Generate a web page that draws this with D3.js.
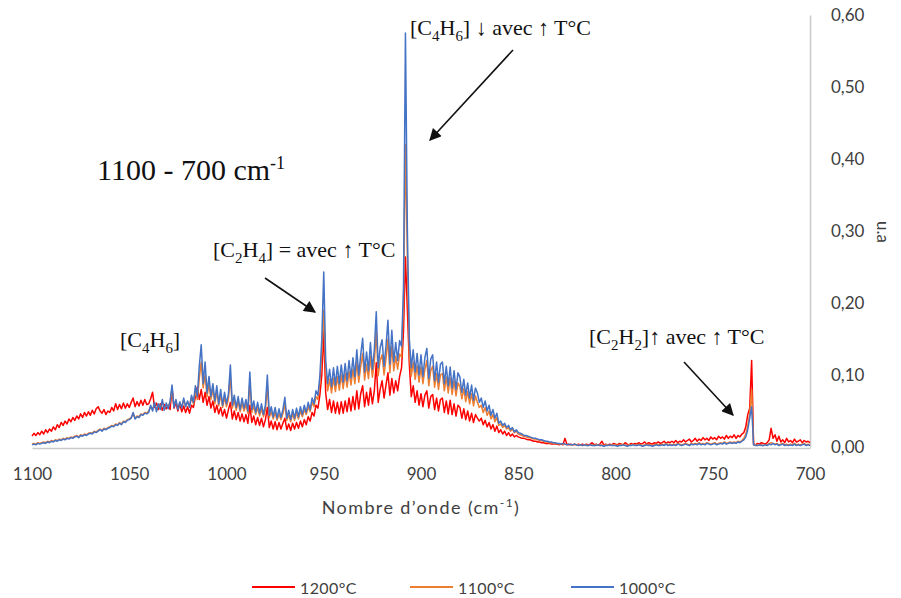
<!DOCTYPE html>
<html><head><meta charset="utf-8">
<script src="https://cdn.jsdelivr.net/npm/d3@7"></script>
<style>
html,body{margin:0;padding:0;background:#fff;}
svg{display:block;}
</style></head>
<body>
<svg id="chart" width="901" height="598"></svg>
<script>
// ---- DATA ----
const wavenumbers = d3.range(1100, 699, -1); // 1100 ... 700 cm-1, step 1
const xTicks = [1100, 1050, 1000, 950, 900, 850, 800, 750, 700];
const yTicks = [0, 0.1, 0.2, 0.3, 0.4, 0.5, 0.6];
const seriesNames = ["1200°C", "1100°C", "1000°C"];
const seriesColors = ["#FF0000", "#ED7D31", "#4472C4"];

const red1200 = [
0.015,0.019,0.016,0.020,0.017,0.022,0.018,0.024,0.020,0.025,
0.022,0.028,0.024,0.031,0.027,0.034,0.030,0.036,0.032,0.039,
0.035,0.041,0.037,0.043,0.039,0.046,0.041,0.048,0.043,0.049,
0.044,0.051,0.046,0.053,0.056,0.050,0.047,0.052,0.045,0.050,
0.048,0.055,0.050,0.060,0.052,0.059,0.053,0.061,0.054,0.060,
0.055,0.062,0.068,0.056,0.063,0.057,0.065,0.058,0.066,0.059,
0.060,0.067,0.076,0.055,0.061,0.052,0.060,0.051,0.059,0.053,
0.058,0.052,0.082,0.054,0.061,0.050,0.060,0.049,0.057,0.048,
0.056,0.047,0.058,0.055,0.070,0.083,0.066,0.080,0.062,0.076,
0.058,0.070,0.054,0.064,0.048,0.058,0.046,0.055,0.043,0.052,
0.040,0.052,0.062,0.039,0.050,0.038,0.048,0.036,0.046,0.035,
0.045,0.033,0.058,0.034,0.043,0.031,0.041,0.030,0.040,0.028,
0.038,0.055,0.027,0.036,0.025,0.035,0.024,0.034,0.025,0.033,
0.040,0.024,0.032,0.023,0.033,0.025,0.034,0.026,0.036,0.028,
0.038,0.031,0.042,0.036,0.048,0.043,0.058,0.054,0.072,0.100,
0.160,0.075,0.052,0.066,0.048,0.064,0.047,0.062,0.046,0.063,
0.047,0.064,0.049,0.068,0.050,0.070,0.052,0.078,0.053,0.074,
0.085,0.056,0.076,0.058,0.082,0.060,0.078,0.117,0.062,0.080,
0.092,0.068,0.086,0.103,0.072,0.095,0.075,0.092,0.078,0.098,
0.110,0.160,0.264,0.190,0.115,0.070,0.085,0.062,0.078,0.058,
0.074,0.056,0.072,0.078,0.054,0.070,0.073,0.052,0.068,0.050,
0.066,0.068,0.048,0.064,0.046,0.065,0.045,0.060,0.043,0.058,
0.055,0.040,0.053,0.038,0.050,0.036,0.047,0.034,0.045,0.040,
0.036,0.040,0.031,0.037,0.028,0.034,0.025,0.031,0.022,0.029,
0.020,0.024,0.018,0.022,0.016,0.020,0.015,0.018,0.014,0.016,
0.014,0.013,0.012,0.012,0.011,0.010,0.010,0.009,0.008,0.008,
0.007,0.007,0.006,0.006,0.005,0.005,0.005,0.004,0.004,0.004,
0.004,0.003,0.004,0.003,0.012,0.004,0.003,0.004,0.003,0.004,
0.003,0.004,0.003,0.004,0.003,0.004,0.003,0.004,0.006,0.003,
0.004,0.003,0.004,0.008,0.003,0.004,0.003,0.004,0.003,0.005,
0.004,0.003,0.005,0.004,0.003,0.006,0.004,0.003,0.005,0.004,
0.005,0.004,0.006,0.004,0.005,0.007,0.004,0.006,0.005,0.004,
0.006,0.005,0.007,0.005,0.006,0.008,0.005,0.007,0.006,0.008,
0.006,0.009,0.006,0.008,0.007,0.010,0.007,0.009,0.011,0.007,
0.009,0.012,0.008,0.011,0.009,0.013,0.010,0.012,0.009,0.014,
0.011,0.013,0.010,0.015,0.012,0.014,0.011,0.016,0.012,0.015,
0.013,0.017,0.012,0.016,0.014,0.018,0.020,0.028,0.045,0.054,
0.120,0.004,0.003,0.005,0.004,0.006,0.005,0.004,0.006,0.010,
0.026,0.012,0.017,0.008,0.015,0.007,0.010,0.006,0.012,0.007,
0.009,0.006,0.011,0.007,0.008,0.010,0.006,0.009,0.007,0.008,
0.006];

const orange1100 = [
0.004,0.005,0.004,0.006,0.005,0.006,0.007,0.006,0.008,0.007,
0.009,0.008,0.010,0.009,0.011,0.010,0.012,0.011,0.013,0.012,
0.014,0.013,0.015,0.016,0.014,0.017,0.016,0.018,0.017,0.019,
0.020,0.019,0.022,0.021,0.023,0.025,0.023,0.026,0.025,0.027,
0.028,0.030,0.029,0.032,0.031,0.034,0.032,0.036,0.035,0.038,
0.039,0.041,0.046,0.040,0.043,0.042,0.046,0.045,0.048,0.047,
0.050,0.056,0.052,0.060,0.051,0.058,0.054,0.063,0.053,0.059,
0.055,0.062,0.080,0.057,0.064,0.054,0.061,0.056,0.065,0.057,
0.062,0.057,0.068,0.060,0.078,0.066,0.095,0.118,0.082,0.100,
0.070,0.088,0.066,0.080,0.060,0.077,0.057,0.073,0.055,0.069,
0.056,0.067,0.098,0.054,0.065,0.051,0.063,0.049,0.061,0.050,
0.059,0.047,0.090,0.048,0.057,0.045,0.055,0.043,0.053,0.042,
0.051,0.085,0.041,0.049,0.039,0.048,0.037,0.046,0.038,0.046,
0.060,0.037,0.045,0.035,0.046,0.037,0.048,0.039,0.050,0.042,
0.052,0.045,0.056,0.049,0.062,0.056,0.070,0.066,0.090,0.130,
0.190,0.105,0.078,0.094,0.075,0.096,0.077,0.098,0.079,0.100,
0.081,0.102,0.083,0.105,0.086,0.108,0.088,0.118,0.090,0.112,
0.130,0.093,0.115,0.095,0.126,0.097,0.118,0.160,0.099,0.120,
0.128,0.100,0.122,0.150,0.103,0.140,0.106,0.126,0.108,0.129,
0.125,0.200,0.420,0.260,0.130,0.098,0.118,0.094,0.113,0.090,
0.111,0.088,0.108,0.120,0.085,0.106,0.112,0.083,0.102,0.080,
0.100,0.102,0.078,0.097,0.075,0.096,0.073,0.092,0.071,0.089,
0.084,0.067,0.081,0.063,0.077,0.060,0.074,0.057,0.071,0.062,
0.055,0.058,0.048,0.055,0.044,0.050,0.039,0.045,0.035,0.041,
0.030,0.032,0.027,0.030,0.025,0.027,0.022,0.025,0.020,0.022,
0.018,0.017,0.016,0.015,0.014,0.013,0.013,0.012,0.011,0.011,
0.010,0.009,0.009,0.008,0.007,0.007,0.006,0.006,0.005,0.005,
0.005,0.004,0.004,0.004,0.004,0.003,0.004,0.003,0.003,0.003,
0.003,0.003,0.003,0.002,0.003,0.003,0.002,0.003,0.003,0.002,
0.003,0.003,0.002,0.003,0.002,0.003,0.003,0.002,0.003,0.003,
0.003,0.002,0.003,0.003,0.004,0.003,0.002,0.003,0.003,0.004,
0.003,0.003,0.004,0.003,0.002,0.003,0.004,0.003,0.003,0.002,
0.003,0.004,0.003,0.003,0.004,0.003,0.005,0.003,0.004,0.003,
0.004,0.003,0.005,0.004,0.003,0.004,0.005,0.004,0.003,0.005,
0.004,0.005,0.004,0.006,0.004,0.005,0.004,0.006,0.005,0.004,
0.005,0.006,0.004,0.005,0.006,0.005,0.007,0.005,0.006,0.007,
0.006,0.007,0.006,0.008,0.007,0.009,0.012,0.018,0.030,0.046,
0.079,0.003,0.003,0.002,0.003,0.003,0.002,0.003,0.003,0.005,
0.006,0.005,0.004,0.005,0.003,0.004,0.005,0.003,0.004,0.003,
0.004,0.003,0.005,0.003,0.004,0.003,0.004,0.005,0.003,0.004,
0.003];

const blue1000 = [
0.003,0.004,0.003,0.005,0.004,0.005,0.006,0.005,0.007,0.006,
0.008,0.007,0.009,0.008,0.010,0.009,0.011,0.010,0.012,0.011,
0.013,0.012,0.014,0.015,0.013,0.016,0.015,0.017,0.016,0.018,
0.019,0.018,0.021,0.020,0.022,0.024,0.022,0.025,0.024,0.026,
0.027,0.029,0.028,0.031,0.030,0.033,0.031,0.035,0.034,0.037,
0.038,0.040,0.048,0.039,0.042,0.041,0.045,0.044,0.047,0.046,
0.048,0.058,0.050,0.062,0.049,0.060,0.052,0.066,0.051,0.061,
0.053,0.064,0.086,0.055,0.066,0.052,0.063,0.054,0.068,0.056,
0.064,0.055,0.072,0.062,0.085,0.070,0.112,0.142,0.088,0.118,
0.075,0.098,0.070,0.088,0.064,0.085,0.060,0.080,0.058,0.076,
0.060,0.074,0.114,0.058,0.072,0.055,0.070,0.052,0.068,0.054,
0.066,0.050,0.104,0.052,0.064,0.048,0.062,0.047,0.060,0.045,
0.058,0.100,0.044,0.056,0.042,0.055,0.040,0.053,0.041,0.052,
0.069,0.040,0.051,0.038,0.052,0.040,0.054,0.042,0.056,0.045,
0.058,0.048,0.062,0.052,0.068,0.060,0.078,0.072,0.098,0.150,
0.243,0.120,0.088,0.108,0.084,0.110,0.086,0.112,0.088,0.114,
0.090,0.116,0.092,0.120,0.096,0.124,0.098,0.135,0.100,0.128,
0.151,0.104,0.132,0.106,0.145,0.108,0.135,0.188,0.110,0.138,
0.149,0.112,0.140,0.176,0.115,0.162,0.118,0.145,0.120,0.148,
0.140,0.220,0.575,0.300,0.150,0.110,0.135,0.104,0.130,0.100,
0.128,0.098,0.124,0.137,0.095,0.122,0.128,0.092,0.118,0.090,
0.115,0.118,0.088,0.112,0.085,0.111,0.082,0.106,0.080,0.103,
0.097,0.076,0.094,0.072,0.089,0.068,0.086,0.065,0.082,0.075,
0.062,0.068,0.055,0.064,0.050,0.058,0.044,0.052,0.040,0.047,
0.033,0.036,0.030,0.033,0.027,0.030,0.024,0.027,0.021,0.024,
0.020,0.019,0.018,0.016,0.016,0.015,0.014,0.013,0.012,0.012,
0.011,0.010,0.010,0.009,0.008,0.008,0.007,0.007,0.006,0.006,
0.005,0.005,0.004,0.005,0.004,0.003,0.004,0.003,0.003,0.004,
0.003,0.002,0.003,0.002,0.003,0.002,0.002,0.003,0.002,0.002,
0.002,0.003,0.002,0.002,0.001,0.002,0.002,0.003,0.002,0.002,
0.002,0.001,0.002,0.002,0.003,0.002,0.001,0.002,0.002,0.003,
0.002,0.002,0.003,0.002,0.001,0.002,0.003,0.002,0.002,0.001,
0.002,0.003,0.002,0.002,0.003,0.002,0.004,0.002,0.003,0.002,
0.003,0.002,0.004,0.003,0.002,0.003,0.004,0.003,0.002,0.004,
0.003,0.004,0.003,0.005,0.003,0.004,0.003,0.005,0.004,0.003,
0.004,0.005,0.003,0.004,0.005,0.004,0.006,0.004,0.005,0.006,
0.005,0.006,0.005,0.007,0.006,0.008,0.010,0.014,0.024,0.040,
0.056,0.003,0.002,0.002,0.003,0.002,0.002,0.003,0.002,0.004,
0.003,0.005,0.003,0.004,0.002,0.003,0.004,0.002,0.003,0.002,
0.003,0.002,0.004,0.002,0.003,0.002,0.003,0.004,0.002,0.003,
0.002];

const seriesValues = [red1200, orange1100, blue1000];

// ---- CHART ----
const svg = d3.select("#chart");
const x = d3.scaleLinear().domain([1100, 700]).range([32, 810]);
const y = d3.scaleLinear().domain([0, 0.6]).range([447, 15]);

const tickFont = "Lato, 'Open Sans', sans-serif";
const serif = "'Liberation Serif', 'Times New Roman', serif";

// x axis
const xAxis = svg.append("g").attr("transform", "translate(0,448)")
  .call(d3.axisBottom(x).tickValues(xTicks).tickSize(0).tickSizeOuter(0).tickFormat(d3.format("d")));
xAxis.select(".domain").attr("stroke", "#c9c9c9").attr("stroke-width", 1.5);
xAxis.selectAll("text").attr("font-family", tickFont).attr("font-size", 17)
  .attr("fill", "#404040").attr("dy", 0).attr("y", 32);

// right y axis
const yAxis = svg.append("g").attr("transform", "translate(810,0)")
  .call(d3.axisRight(y).tickValues(yTicks).tickSize(0).tickSizeOuter(0)
    .tickFormat(d => d3.format(".2f")(d).replace(".", ",")));
yAxis.select(".domain").attr("stroke", "#c9c9c9").attr("stroke-width", 1.5);
yAxis.selectAll("text").attr("font-family", tickFont).attr("font-size", 17)
  .attr("fill", "#404040").attr("x", 21);

// lines
const line = d3.line().x((d, i) => x(wavenumbers[i])).y(d => y(d));
svg.append("g").selectAll("path").data(seriesValues).join("path")
  .attr("d", d => line(d))
  .attr("fill", "none")
  .attr("stroke", (d, i) => seriesColors[i])
  .attr("stroke-width", 1.5)
  .attr("stroke-linejoin", "round");

// axis titles
const xt = svg.append("text").attr("x", 421).attr("y", 514).attr("text-anchor", "middle")
  .attr("font-family", tickFont).attr("font-size", 18).attr("letter-spacing", 1.4).attr("fill", "#404040");
xt.append("tspan").text("Nombre d\u2019onde (cm");
xt.append("tspan").attr("dy", -7).attr("font-size", 12).text("-1");
xt.append("tspan").attr("dy", 7).text(")");

svg.append("text").attr("transform", "translate(881,232) rotate(90)")
  .attr("text-anchor", "middle").attr("dominant-baseline", "middle")
  .attr("font-family", tickFont).attr("font-size", 17).attr("fill", "#404040").text("u.a");

// rich text helper
function rich(xp, yp, size, parts) {
  const t = svg.append("text").attr("x", xp).attr("y", yp)
    .attr("font-family", serif).attr("font-size", size).attr("fill", "#111");
  let shift = 0;
  parts.forEach(p => {
    let target = 0, fs = size;
    if (p.sub) { target = size * 0.28; fs = size * 0.68; }
    if (p.sup) { target = -size * 0.38; fs = size * 0.6; }
    t.append("tspan").attr("dy", target - shift).attr("font-size", fs).text(p.t);
    shift = target;
  });
  return t;
}

rich(97, 180, 30, [{t: "1100 - 700 cm"}, {t: "-1", sup: true}]);
rich(410, 35, 22, [{t: "[C"}, {t: "4", sub: true}, {t: "H"}, {t: "6", sub: true}, {t: "] \u2193 avec \u2191 T°C"}]);
rich(213, 257, 22, [{t: "[C"}, {t: "2", sub: true}, {t: "H"}, {t: "4", sub: true}, {t: "] = avec \u2191 T°C"}]);
rich(120, 347, 22, [{t: "[C"}, {t: "4", sub: true}, {t: "H"}, {t: "6", sub: true}, {t: "]"}]);
rich(589, 344, 22, [{t: "[C"}, {t: "2", sub: true}, {t: "H"}, {t: "2", sub: true}, {t: "]\u2191 avec \u2191 T°C"}]);

// arrows
const defs = svg.append("defs");
defs.append("marker").attr("id", "ah").attr("viewBox", "0 0 10 10")
  .attr("refX", 9).attr("refY", 5).attr("markerWidth", 14).attr("markerHeight", 12)
  .attr("markerUnits", "userSpaceOnUse").attr("orient", "auto")
  .append("path").attr("d", "M0,0 L10,5 L0,10 Z").attr("fill", "#111");
const arrows = [
  [[513, 50], [430, 140]],
  [[265, 278], [315, 312]],
  [[684, 362], [733, 415]]
];
svg.append("g").selectAll("line").data(arrows).join("line")
  .attr("x1", d => d[0][0]).attr("y1", d => d[0][1])
  .attr("x2", d => d[1][0]).attr("y2", d => d[1][1])
  .attr("stroke", "#111").attr("stroke-width", 1.6)
  .attr("marker-end", "url(#ah)");

// legend
const legX = [252, 410, 571];
const leg = svg.append("g").selectAll("g").data(seriesNames).join("g")
  .attr("transform", (d, i) => `translate(${legX[i]},587)`);
leg.append("line").attr("x1", 0).attr("x2", 43).attr("y1", 0).attr("y2", 0)
  .attr("stroke", (d, i) => seriesColors[i]).attr("stroke-width", 2);
leg.append("text").attr("x", 48).attr("y", 0).attr("dominant-baseline", "central")
  .attr("font-family", tickFont).attr("font-size", 16).attr("letter-spacing", 0.4)
  .attr("fill", "#404040").text(d => d);
</script>
</body></html>
